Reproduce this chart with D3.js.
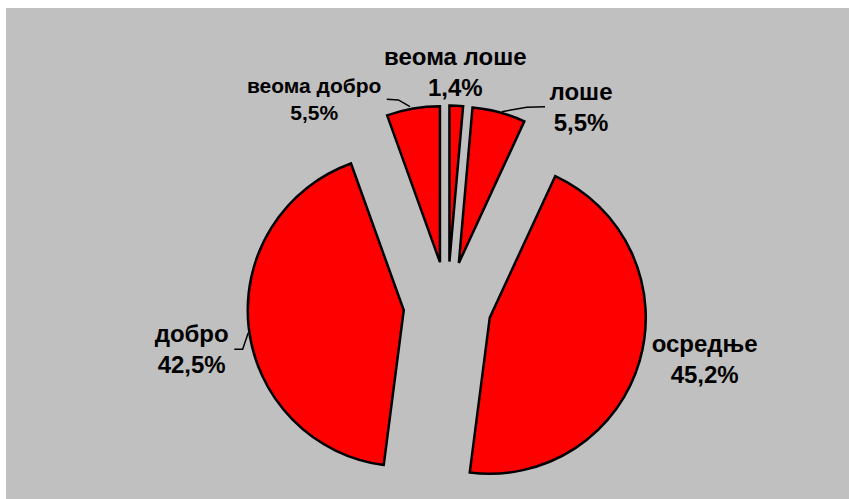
<!DOCTYPE html>
<html>
<head>
<meta charset="utf-8">
<script src="https://cdn.jsdelivr.net/npm/d3@7"></script>
<style>
  html, body { margin: 0; padding: 0; background: #ffffff; }
  svg { display: block; }
</style>
</head>
<body>
<svg id="chart" width="849" height="499"></svg>
<script>
// ---- data ----
const categories = ["веома лоше", "лоше", "осредње", "добро", "веома добро"];
const values = [1.4, 5.5, 45.2, 42.5, 5.5];
const valueLabels = ["1,4%", "5,5%", "45,2%", "42,5%", "5,5%"];

// ---- layout (style, not data) ----
const W = 849, H = 499;
const center = { x: 447.5, y: 305.5 };
const radius = 156;
const explode = 44;
// label offsets relative to the slice's outer-arc midpoint (x = text centre, y = first baseline)
const labelOffsets = [[-1, -41], [82, -12], [65, -9], [-57, 15], [-99, -15.5]];
const labelFontSizes = [24, 24, 24, 24, 21];
// leader polylines relative to the slice's outer-arc midpoint (null = none)
const leaders = [
  null,
  [[2.7, -0.6], [27.7, -5], [46, -5.6]],
  null,
  [[-0.4, 5.6], [-6, 22.2], [-14.4, 22.2]],
  [[-3.1, -1.8], [-14.8, -8.5], [-26.4, -9.2]]
];

const svg = d3.select("#chart");

svg.append("rect")
  .attr("x", 6).attr("y", 8)
  .attr("width", W - 6).attr("height", H - 8)
  .attr("fill", "#c0c0c0");

const pie = d3.pie().sort(null).value(d => d).startAngle(0).endAngle(2 * Math.PI);
const arcs = pie(values);
const arcGen = d3.arc().innerRadius(0).outerRadius(radius);

const g = svg.append("g");

arcs.forEach((a, i) => {
  const mid = (a.startAngle + a.endAngle) / 2;
  const ox = center.x + explode * Math.sin(mid);
  const oy = center.y - explode * Math.cos(mid);
  g.append("path")
    .attr("d", arcGen(a))
    .attr("transform", `translate(${ox},${oy})`)
    .attr("fill", "#ff0000")
    .attr("stroke", "#000000")
    .attr("stroke-width", 2.5)
    .attr("stroke-linejoin", "miter");

  const ax = ox + radius * Math.sin(mid);
  const ay = oy - radius * Math.cos(mid);

  if (leaders[i]) {
    const line = d3.line();
    g.append("path")
      .attr("d", line(leaders[i].map(p => [ax + p[0], ay + p[1]])))
      .attr("fill", "none")
      .attr("stroke", "#000000")
      .attr("stroke-width", 1.5);
  }

  const fs = labelFontSizes[i];
  const lx = ax + labelOffsets[i][0];
  const ly = ay + labelOffsets[i][1];
  const t = g.append("text")
    .attr("x", lx).attr("y", ly)
    .attr("text-anchor", "middle")
    .attr("font-family", "'Liberation Sans', Arial, sans-serif")
    .attr("font-weight", "bold")
    .attr("font-size", fs)
    .attr("fill", "#000000");
  t.append("tspan").attr("x", lx).attr("y", ly).text(categories[i]);
  t.append("tspan").attr("x", lx).attr("y", ly + fs * 1.3).text(valueLabels[i]);
});
</script>
</body>
</html>
